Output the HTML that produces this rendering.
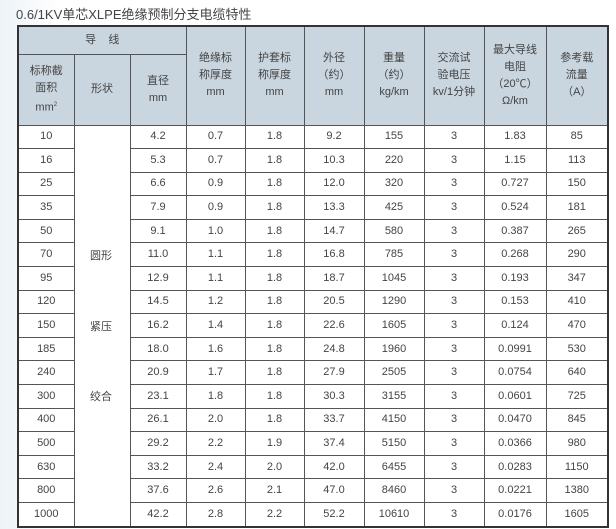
<!DOCTYPE html>
<html><head><meta charset="utf-8"><style>
html,body{margin:0;padding:0;}
body{width:616px;height:529px;position:relative;overflow:hidden;background:linear-gradient(90deg,#eef3f8 0,#fff 60px);font-family:"Liberation Sans","Noto Sans CJK SC",sans-serif;color:#444;}
.title{position:absolute;left:16px;top:4px;font-size:13px;color:#444;}
table{position:absolute;left:17px;top:25px;border-collapse:collapse;table-layout:fixed;border:2px solid #333;background:#fff;}
td{border:1px solid #555;text-align:center;font-size:11px;padding:0;line-height:17px;}
.h td{background:#c9d5df;}
tr.d td{height:22.6px;}
.s{position:absolute;left:90px;font-size:11px;}
</style></head><body>
<div class="title">0.6/1KV单芯XLPE绝缘预制分支电缆特性</div>
<table>
<colgroup><col style="width:56px"><col style="width:56px"><col style="width:56px"><col style="width:59px"><col style="width:59px"><col style="width:60px"><col style="width:60px"><col style="width:60px"><col style="width:62px"><col style="width:62px"></colgroup>
<tr class="h" style="height:28px"><td colspan="3">导&nbsp;&nbsp;&nbsp;&nbsp;线</td><td rowspan="2">绝缘标<br>称厚度<br>mm</td><td rowspan="2">护套标<br>称厚度<br>mm</td><td rowspan="2">外径<br>（约）<br>mm</td><td rowspan="2">重量<br>（约）<br>kg/km</td><td rowspan="2">交流试<br>验电压<br>kv/1分钟</td><td rowspan="2">最大导线<br>电阻<br>（20℃）<br>Ω/km</td><td rowspan="2">参考载<br>流量<br>（A）</td></tr>
<tr class="h" style="height:71px"><td>标称截<br>面积<br>mm<sup style="font-size:6px">2</sup></td><td>形状</td><td>直径<br>mm</td></tr>
<tr class="d"><td>10</td><td rowspan="17"></td><td>4.2</td><td>0.7</td><td>1.8</td><td>9.2</td><td>155</td><td>3</td><td>1.83</td><td>85</td></tr>
<tr class="d"><td>16</td><td>5.3</td><td>0.7</td><td>1.8</td><td>10.3</td><td>220</td><td>3</td><td>1.15</td><td>113</td></tr>
<tr class="d"><td>25</td><td>6.6</td><td>0.9</td><td>1.8</td><td>12.0</td><td>320</td><td>3</td><td>0.727</td><td>150</td></tr>
<tr class="d"><td>35</td><td>7.9</td><td>0.9</td><td>1.8</td><td>13.3</td><td>425</td><td>3</td><td>0.524</td><td>181</td></tr>
<tr class="d"><td>50</td><td>9.1</td><td>1.0</td><td>1.8</td><td>14.7</td><td>580</td><td>3</td><td>0.387</td><td>265</td></tr>
<tr class="d"><td>70</td><td>11.0</td><td>1.1</td><td>1.8</td><td>16.8</td><td>785</td><td>3</td><td>0.268</td><td>290</td></tr>
<tr class="d"><td>95</td><td>12.9</td><td>1.1</td><td>1.8</td><td>18.7</td><td>1045</td><td>3</td><td>0.193</td><td>347</td></tr>
<tr class="d"><td>120</td><td>14.5</td><td>1.2</td><td>1.8</td><td>20.5</td><td>1290</td><td>3</td><td>0.153</td><td>410</td></tr>
<tr class="d"><td>150</td><td>16.2</td><td>1.4</td><td>1.8</td><td>22.6</td><td>1605</td><td>3</td><td>0.124</td><td>470</td></tr>
<tr class="d"><td>185</td><td>18.0</td><td>1.6</td><td>1.8</td><td>24.8</td><td>1960</td><td>3</td><td>0.0991</td><td>530</td></tr>
<tr class="d"><td>240</td><td>20.9</td><td>1.7</td><td>1.8</td><td>27.9</td><td>2505</td><td>3</td><td>0.0754</td><td>640</td></tr>
<tr class="d"><td>300</td><td>23.1</td><td>1.8</td><td>1.8</td><td>30.3</td><td>3155</td><td>3</td><td>0.0601</td><td>725</td></tr>
<tr class="d"><td>400</td><td>26.1</td><td>2.0</td><td>1.8</td><td>33.7</td><td>4150</td><td>3</td><td>0.0470</td><td>845</td></tr>
<tr class="d"><td>500</td><td>29.2</td><td>2.2</td><td>1.9</td><td>37.4</td><td>5150</td><td>3</td><td>0.0366</td><td>980</td></tr>
<tr class="d"><td>630</td><td>33.2</td><td>2.4</td><td>2.0</td><td>42.0</td><td>6455</td><td>3</td><td>0.0283</td><td>1150</td></tr>
<tr class="d"><td>800</td><td>37.6</td><td>2.6</td><td>2.1</td><td>47.0</td><td>8460</td><td>3</td><td>0.0221</td><td>1380</td></tr>
<tr class="d"><td>1000</td><td>42.2</td><td>2.8</td><td>2.2</td><td>52.2</td><td>10610</td><td>3</td><td>0.0176</td><td>1605</td></tr>
</table>
<div class="s" style="top:247px">圆形</div>
<div class="s" style="top:318px">紧压</div>
<div class="s" style="top:388px">绞合</div>
</body></html>
